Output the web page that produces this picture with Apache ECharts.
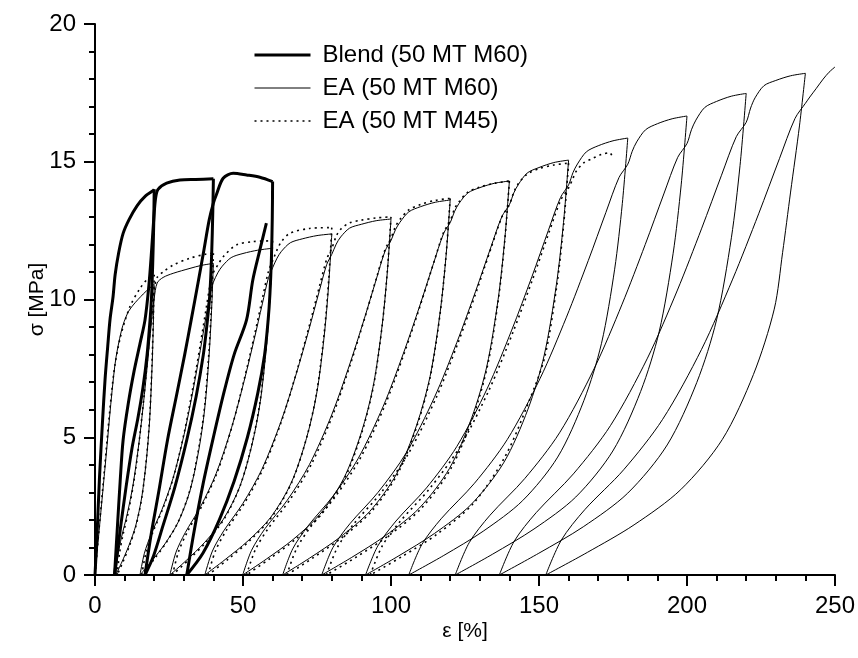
<!DOCTYPE html>
<html>
<head>
<meta charset="utf-8">
<script src="https://cdn.jsdelivr.net/npm/echarts@6/dist/echarts.min.js"></script>
<style>
  html, body { margin: 0; padding: 0; background: #fff; }
  #chart { width: 858px; height: 658px; }
</style>
</head>
<body>
<div id="chart"></div>
<script>
// Axis ticks
const xTicks = [0, 50, 100, 150, 200, 250];
const yTicks = [0, 5, 10, 15, 20];

// Legend names
const seriesNames = ['Blend (50 MT M60)', 'EA (50 MT M60)', 'EA (50 MT M45)'];

// Blend (50 MT M60): [strain %, stress MPa], loading and unloading branches in test order
const blendLoad1 = [[0,0],[0.7,1.5],[1.5,3.5],[2.5,5.5],[3.4,7.1],[4.3,8.3],[5.1,9.3],[6.1,10.1],[6.8,10.9],[8,11.7],[9.5,12.4],[11.5,12.9],[14.2,13.4],[17,13.75],[19.6,13.95],[20,14.0]];
const blendUnload1 = [[20,14],[19.85,12.8],[19.5,11.3],[19.1,10.1],[18.6,9.26],[17.6,8.0],[16.2,6.8],[14.5,5.7],[12.5,4.6],[10.5,3.2],[8.6,1.7],[6.6,0]];
const blendLoad2 = [[6.6,0],[7.6,1.8],[8.5,3.4],[9.5,4.9],[11.2,6.2],[13.2,7.4],[15.2,8.4],[16.9,9.26],[18.2,10.5],[19.2,11.9],[19.9,13.0],[20.5,13.7],[21.3,14.0],[24.2,14.22],[28.7,14.34],[34,14.36],[40,14.38]];
const blendUnload2 = [[40,14.38],[39.8,13.2],[39.4,11.6],[38.8,10.2],[38,9.26],[36.6,8.0],[34.2,6.5],[31,4.9],[27,3.2],[23,1.8],[19.8,0.7],[16.9,0]];
const blendLoad3 = [[16.9,0],[19,1.5],[21.5,3.0],[24.5,4.9],[27.5,6.5],[30.3,8.0],[32.5,9.26],[34.8,10.6],[36.8,11.8],[38.6,12.9],[40,13.5],[41,13.8],[43.3,14.4],[46.7,14.58],[51.2,14.52],[55.7,14.44],[60,14.28]];
const blendUnload3 = [[60,14.28],[59.9,13],[59.6,11.5],[59.1,10.2],[58.5,9.26],[57.3,8],[55,6.6],[51.5,5.0],[47,3.4],[42,2.0],[36.5,0.8],[31,0]];
const blendLoad4 = [[31,0],[33.5,1.6],[36.5,3.3],[40,5.0],[43.5,6.6],[47,8.0],[51.2,9.26],[53.3,10.7],[55.7,11.8],[57.9,12.77]];

// EA (50 MT M60)
const m60Load1 = [[0,0],[3.3,3.8],[6.7,7.6],[9,8.9],[11,9.5],[12.9,9.8],[16.3,10.2],[18.5,10.42],[20,10.55]];
const m60Unload1 = [[20,10.55],[19.68,8.97],[19.22,7.39],[18.44,5.59],[17.4,4.22],[15.84,2.85],[13.76,1.79],[11.42,1.06],[9.08,0.47],[7,0]];
const m60Load2 = [[7,0],[7.78,0.74],[8.95,1.37],[10.9,2.22],[12.85,3.27],[14.8,4.75],[16.36,6.22],[17.66,7.6],[18.7,8.76],[19.48,9.6],[20,10.05],[21,10.6],[23,10.8],[26.4,10.95],[32.1,11.13],[36,11.24],[40,11.31]];
const m60Unload2 = [[40,11.31],[39.38,9.61],[38.51,7.92],[37.02,5.99],[35.04,4.52],[32.06,3.05],[28.1,1.92],[23.63,1.13],[19.17,0.51],[15.2,0]];
const m60Load3 = [[15.2,0],[16.69,0.79],[18.92,1.47],[22.64,2.38],[26.36,3.51],[30.08,5.09],[33.06,6.67],[35.54,8.14],[37.52,9.39],[39.01,10.29],[40,10.63],[41.5,10.97],[43,11.21],[46,11.52],[50,11.67],[55,11.79],[60,11.86]];
const m60Unload3 = [[60,11.86],[59.13,10.08],[57.92,8.3],[55.84,6.29],[53.06,4.74],[48.9,3.2],[43.34,2.02],[37.1,1.19],[30.85,0.53],[25.3,0]];
const m60Load4 = [[25.3,0],[27.38,0.83],[30.51,1.54],[35.71,2.49],[40.92,3.68],[46.12,5.34],[50.28,7.0],[53.75,8.54],[56.53,9.84],[58.61,10.79],[60,11.15],[61.5,11.5],[63,11.75],[66,12.06],[70,12.2],[75,12.32],[80,12.38]];
const m60Unload4 = [[80,12.38],[78.93,10.52],[77.43,8.67],[74.85,6.56],[71.42,4.95],[66.27,3.34],[59.41,2.1],[51.69,1.24],[43.96,0.56],[37.1,0]];
const m60Load5 = [[37.1,0],[39.67,0.87],[43.54,1.61],[49.97,2.6],[56.41,3.84],[62.84,5.57],[67.99,7.3],[72.28,8.91],[75.71,10.28],[78.28,11.27],[80,11.64],[81.5,12.01],[83,12.27],[86,12.59],[90,12.73],[95,12.86],[100,12.92]];
const m60Unload5 = [[100,12.92],[98.75,10.98],[96.99,9.04],[93.99,6.85],[89.98,5.17],[83.97,3.49],[75.95,2.2],[66.93,1.29],[57.92,0.58],[49.9,0]];
const m60Load6 = [[49.9,0],[52.91,0.9],[57.42,1.68],[64.93,2.71],[72.45,4.01],[79.96,5.81],[85.97,7.62],[90.98,9.3],[94.99,10.72],[98,11.76],[100,12.14],[101.5,12.53],[103,12.8],[106,13.18],[110,13.37],[115,13.53],[120,13.61]];
const m60Unload6 = [[120,13.61],[118.59,11.57],[116.6,9.53],[113.21,7.21],[108.68,5.44],[101.89,3.67],[92.83,2.31],[82.64,1.36],[72.46,0.61],[63.4,0]];
const m60Load7 = [[63.4,0],[66.8,0.95],[71.89,1.77],[80.38,2.86],[88.87,4.22],[97.36,6.12],[104.15,8.03],[109.81,9.8],[114.34,11.3],[117.74,12.39],[120,12.79],[121.5,13.2],[123,13.49],[126,13.87],[130,14.06],[135,14.22],[140,14.3]];
const m60Unload7 = [[140,14.3],[138.42,12.16],[136.2,10.01],[132.39,7.58],[127.32,5.72],[119.71,3.86],[109.57,2.43],[98.16,1.43],[86.74,0.64],[76.6,0]];
const m60Load8 = [[76.6,0],[80.4,1.0],[86.11,1.86],[95.62,3.0],[105.13,4.43],[114.64,6.44],[122.25,8.44],[128.59,10.3],[133.66,11.87],[137.46,13.01],[140,13.44],[141.5,13.87],[143,14.17],[146,14.59],[150,14.79],[155,14.97],[160,15.06]];
const m60Unload8 = [[160,15.06],[158.29,12.8],[155.88,10.54],[151.77,7.98],[146.28,6.02],[138.05,4.07],[127.07,2.56],[114.72,1.51],[102.38,0.68],[91.4,0]];
const m60Load9 = [[91.4,0],[95.52,1.05],[101.69,1.96],[111.98,3.16],[122.27,4.67],[132.56,6.78],[140.79,8.89],[147.65,10.84],[153.14,12.5],[157.26,13.7],[160,14.16],[161.5,14.61],[163,14.92],[166,15.36],[170,15.58],[175,15.76],[180,15.86]];
const m60Unload9 = [[180,15.86],[178.15,13.48],[175.56,11.1],[171.12,8.41],[165.2,6.34],[156.32,4.28],[144.48,2.7],[131.16,1.59],[117.84,0.71],[106,0]];
const m60Load10 = [[106,0],[110.44,1.11],[117.1,2.06],[128.2,3.33],[139.3,4.92],[150.4,7.14],[159.28,9.36],[166.68,11.42],[172.6,13.16],[177.04,14.43],[180,14.91],[181.5,15.38],[183,15.72],[186,16.16],[190,16.38],[195,16.56],[200,16.66]];
const m60Unload10 = [[200,16.66],[198.04,14.16],[195.3,11.66],[190.6,8.83],[184.34,6.66],[174.94,4.5],[162.42,2.83],[148.32,1.67],[134.23,0.75],[121.7,0]];
const m60Load11 = [[121.7,0],[126.4,1.17],[133.45,2.17],[145.19,3.5],[156.94,5.16],[168.68,7.5],[178.08,9.83],[185.91,12.0],[192.17,13.83],[196.87,15.16],[200,15.66],[201.5,16.16],[203,16.51],[206,16.97],[210,17.19],[215,17.38],[220,17.48]];
const m60Unload11 = [[220,17.48],[217.92,14.86],[215,12.24],[209.99,9.26],[203.32,6.99],[193.31,4.72],[179.97,2.97],[164.96,1.75],[149.94,0.79],[136.6,0]];
const m60Load12 = [[136.6,0],[141.6,1.22],[149.11,2.27],[161.62,3.67],[174.13,5.42],[186.64,7.87],[196.65,10.31],[204.99,12.59],[211.66,14.51],[216.66,15.91],[220,16.43],[221.5,16.95],[223,17.32],[226,17.76],[230,17.95],[235,18.12],[240,18.21]];
const m60Unload12 = [[240,18.21],[238.0,16.3],[235.0,13.9],[232.3,11.7],[229.48,9.65],[222.46,7.28],[211.94,4.92],[197.9,3.1],[182.12,1.82],[166.33,0.82],[152.3,0]];
const m60Load13 = [[152.3,0],[157.56,1.27],[165.46,2.37],[178.61,3.82],[191.77,5.65],[204.92,8.19],[215.44,10.74],[224.21,13.11],[231.23,15.11],[236.49,16.57],[240,17.12],[241.5,17.35],[243.6,17.65],[246,18.0],[248,18.25],[250,18.44]];

// EA (50 MT M45)
const m45Load1 = [[0,0],[3,3.6],[6.2,7.2],[8.5,8.6],[11.8,9.74],[15.2,10.4],[18,10.77],[20,10.9]];
const m45Unload1 = [[20,10.9],[19.69,9.27],[19.25,7.63],[18.5,5.78],[17.5,4.36],[16,2.94],[14,1.85],[11.75,1.09],[9.5,0.49],[7.5,0]];
const m45Load2 = [[7.5,0],[8.25,0.76],[9.38,1.42],[11.25,2.29],[13.13,3.38],[15,4.91],[16.5,6.43],[17.75,7.85],[18.75,9.05],[19.5,9.92],[20,10.4],[21,10.8],[23,11.0],[26.4,11.25],[32.1,11.5],[37.7,11.65],[40,11.68]];
const m45Unload2 = [[40,11.68],[39.4,9.93],[38.55,8.18],[37.1,6.19],[35.16,4.67],[32.26,3.15],[28.38,1.99],[24.03,1.17],[19.67,0.53],[15.8,0]];
const m45Load3 = [[15.8,0],[17.25,0.82],[19.43,1.52],[23.06,2.45],[26.69,3.62],[30.32,5.26],[33.22,6.89],[35.64,8.41],[37.58,9.69],[39.03,10.63],[40,10.98],[41.5,11.25],[43.3,11.55],[47.8,11.98],[53.4,12.1],[60,12.13]];
const m45Unload3 = [[60,12.13],[59.16,10.31],[57.97,8.49],[55.94,6.43],[53.24,4.85],[49.18,3.28],[43.78,2.06],[37.69,1.21],[31.61,0.55],[26.2,0]];
const m45Load4 = [[26.2,0],[28.23,0.85],[31.27,1.58],[36.34,2.55],[41.41,3.76],[46.48,5.46],[50.54,7.16],[53.92,8.73],[56.62,10.07],[58.65,11.04],[60,11.4],[61.5,11.8],[63,12.1],[65.8,12.4],[72.5,12.58],[80,12.61]];
const m45Unload4 = [[80,12.61],[78.96,10.72],[77.49,8.83],[74.98,6.68],[71.64,5.04],[66.62,3.4],[59.94,2.14],[52.41,1.26],[44.89,0.57],[38.2,0]];
const m45Load5 = [[38.2,0],[40.71,0.88],[44.47,1.64],[50.74,2.65],[57.01,3.91],[63.28,5.67],[68.3,7.44],[72.48,9.08],[75.82,10.47],[78.33,11.48],[80,11.85],[81.5,12.3],[83,12.55],[86,12.78],[90,12.88],[95,12.96],[100,13.0]];
const m45Unload5 = [[100,13.0],[98.78,11.05],[97.07,9.1],[94.14,6.89],[90.24,5.2],[84.38,3.51],[76.58,2.21],[67.79,1.3],[59.01,0.59],[51.2,0]];
const m45Load6 = [[51.2,0],[54.13,0.91],[58.52,1.69],[65.84,2.73],[73.16,4.03],[80.48,5.85],[86.34,7.67],[91.22,9.36],[95.12,10.79],[98.05,11.83],[100,12.22],[101.5,12.65],[103,12.9],[106,13.25],[110,13.45],[115,13.6],[120,13.67]];
const m45Unload6 = [[120,13.67],[118.62,11.62],[116.69,9.57],[113.38,7.25],[108.96,5.47],[102.34,3.69],[93.5,2.32],[83.57,1.37],[73.63,0.62],[64.8,0]];
const m45Load7 = [[64.8,0],[68.11,0.96],[73.08,1.78],[81.36,2.87],[89.64,4.24],[97.92,6.15],[104.54,8.07],[110.06,9.84],[114.48,11.35],[117.79,12.44],[120,12.85],[121.5,13.3],[123,13.55],[126,13.9],[130,14.08],[135,14.22],[140,14.3]];
const m45Unload7 = [[140,14.3],[138.46,12.16],[136.29,10.01],[132.58,7.58],[127.64,5.72],[120.22,3.86],[110.34,2.43],[99.21,1.43],[88.09,0.64],[78.2,0]];
const m45Load8 = [[78.2,0],[81.91,1.0],[87.47,1.86],[96.74,3.0],[106.01,4.43],[115.28,6.44],[122.7,8.44],[128.88,10.3],[133.82,11.87],[137.53,13.01],[140,13.44],[141.5,13.9],[143,14.2],[146,14.55],[150,14.75],[155,14.88],[160,14.95]];
const m45Unload8 = [[160,14.95],[158.33,12.71],[155.98,10.47],[151.96,7.92],[146.6,6.3],[138.56,4.3],[127.84,2.6],[115.78,1.5],[103.72,0.67],[93,0]];
const m45Load9 = [[93,0],[97.02,1.05],[103.05,1.94],[113.1,3.14],[123.15,4.63],[133.2,6.73],[141.24,8.82],[147.94,10.76],[153.3,12.41],[157.32,13.6],[160,14.05],[161.5,14.4],[162.5,14.64],[165,14.95],[168.1,15.12],[171,15.26],[173.8,15.33],[175.1,15.1]];

const blendBranches = [blendLoad1, blendUnload1, blendLoad2, blendUnload2, blendLoad3, blendUnload3, blendLoad4];
const m60Branches = [m60Load1, m60Unload1, m60Load2, m60Unload2, m60Load3, m60Unload3, m60Load4, m60Unload4,
  m60Load5, m60Unload5, m60Load6, m60Unload6, m60Load7, m60Unload7, m60Load8, m60Unload8, m60Load9, m60Unload9,
  m60Load10, m60Unload10, m60Load11, m60Unload11, m60Load12, m60Unload12, m60Load13];
const m45Branches = [m45Load1, m45Unload1, m45Load2, m45Unload2, m45Load3, m45Unload3, m45Load4, m45Unload4,
  m45Load5, m45Unload5, m45Load6, m45Unload6, m45Load7, m45Unload7, m45Load8, m45Unload8, m45Load9];

const FONT = '"Liberation Sans", Arial, Helvetica, sans-serif';
const blendStyle = { color: '#000', width: 3 };
const m60Style = { color: '#000', width: 1 };
const m45Style = { color: '#000', width: 1.6, type: [2, 4] };

const series = [];
function addBranches(branches, name, lineStyle, z) {
  branches.forEach(function (pts) {
    series.push({
      type: 'line', name: name, data: pts, symbol: 'none', showSymbol: false,
      smooth: 0.3, silent: true, z: z, lineStyle: lineStyle, color: '#000'
    });
  });
}
addBranches(blendBranches, seriesNames[0], blendStyle, 4);
addBranches(m60Branches, seriesNames[1], m60Style, 3);
addBranches(m45Branches, seriesNames[2], m45Style, 2);

const chart = echarts.init(document.getElementById('chart'), null, { renderer: 'canvas' });
chart.setOption({
  animation: false,
  backgroundColor: '#fff',
  textStyle: { fontFamily: FONT, color: '#000' },
  grid: { left: 95, right: 22, top: 24, bottom: 83, containLabel: false },
  legend: {
    data: [
      { name: seriesNames[0], lineStyle: blendStyle },
      { name: seriesNames[1], lineStyle: m60Style },
      { name: seriesNames[2], lineStyle: m45Style }
    ],
    orient: 'vertical', left: 248, top: 38,
    itemWidth: 56, itemHeight: 14, itemGap: 9,
    itemStyle: { opacity: 0 },
    textStyle: { fontFamily: FONT, fontSize: 24, color: '#000', padding: [0, 0, 0, 7] },
    selectedMode: false
  },
  xAxis: {
    type: 'value', min: xTicks[0], max: xTicks[xTicks.length - 1], interval: xTicks[1] - xTicks[0],
    name: 'ε [%]', nameLocation: 'middle', nameGap: 46, nameMoveOverlap: false,
    nameTextStyle: { fontFamily: FONT, fontSize: 21, color: '#000' },
    axisLine: { show: true, onZero: false, lineStyle: { color: '#000', width: 2 } },
    axisTick: { show: true, inside: false, length: 11, lineStyle: { color: '#000', width: 2 } },
    minorTick: { show: true, splitNumber: 5, length: 6, lineStyle: { color: '#000', width: 2 } },
    axisLabel: { fontFamily: FONT, fontSize: 24, color: '#000', margin: 19 },
    splitLine: { show: false }, minorSplitLine: { show: false }
  },
  yAxis: {
    type: 'value', min: yTicks[0], max: yTicks[yTicks.length - 1], interval: yTicks[1] - yTicks[0],
    name: 'σ [MPa]', nameLocation: 'middle', nameGap: 47, nameMoveOverlap: false,
    nameTextStyle: { fontFamily: FONT, fontSize: 21, color: '#000' },
    axisLine: { show: true, onZero: false, lineStyle: { color: '#000', width: 2 } },
    axisTick: { show: true, inside: false, length: 11, lineStyle: { color: '#000', width: 2 } },
    minorTick: { show: true, splitNumber: 5, length: 6, lineStyle: { color: '#000', width: 2 } },
    axisLabel: { fontFamily: FONT, fontSize: 24, color: '#000', margin: 19 },
    splitLine: { show: false }, minorSplitLine: { show: false }
  },
  series: series
});
</script>
</body>
</html>
